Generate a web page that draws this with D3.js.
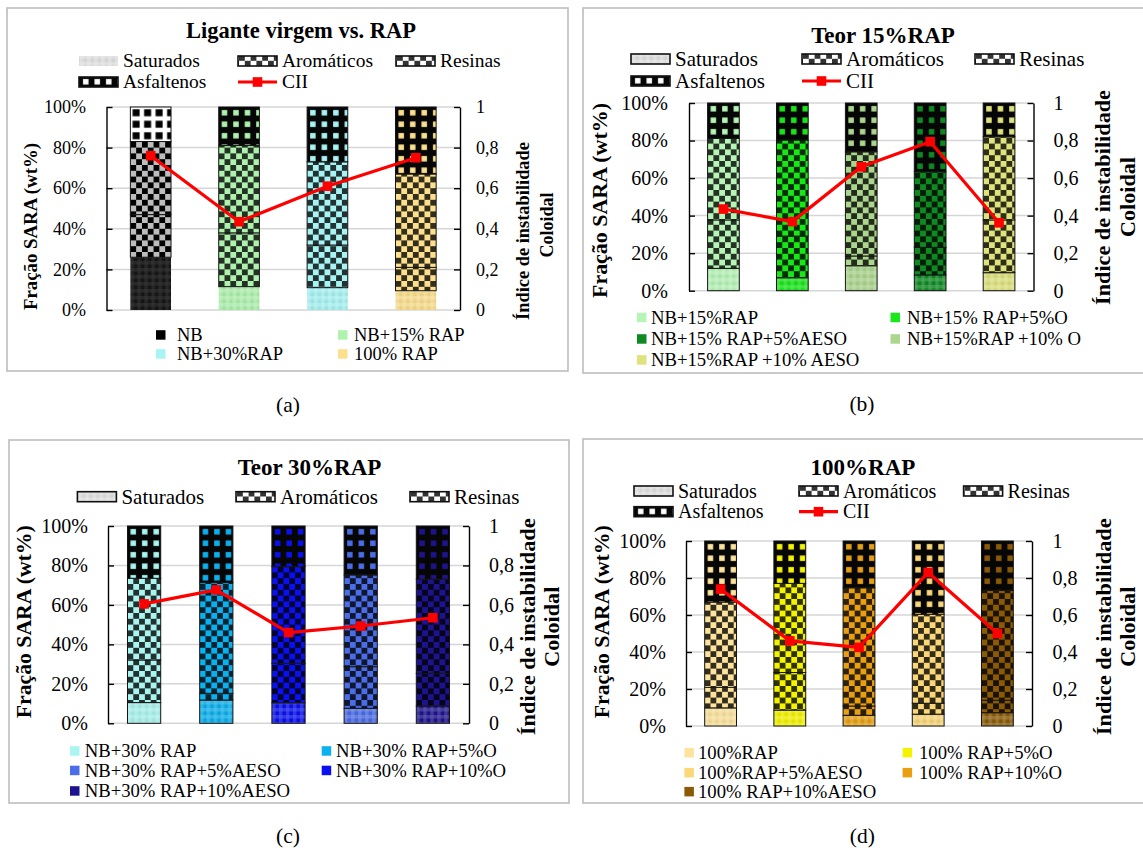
<!DOCTYPE html>
<html>
<head>
<meta charset="utf-8">
<script src="https://cdn.jsdelivr.net/npm/d3@7"></script>
<style>
  body { margin: 0; background: #fff; }
  svg { display: block; }
</style>
</head>
<body>
<svg id="fig" width="1143" height="851"></svg>
<script>
// ---------- shared ----------
const sara = ["Saturados", "Aromáticos", "Resinas", "Asfaltenos"];
const keyItems = ["Saturados", "Aromáticos", "Resinas", "Asfaltenos", "CII"];
const pctTicks = [0, 20, 40, 60, 80, 100];
const ciiTicks = [0, 0.2, 0.4, 0.6, 0.8, 1];
const leftTitle = "Fração SARA (wt%)";
const rightTitle1 = "Índice de instabilidade";
const rightTitle2 = "Coloidal";

// ---------- (a) Ligante virgem vs. RAP ----------
const titleA = "Ligante virgem vs. RAP";
const samplesA = ["NB", "NB+15% RAP", "NB+30%RAP", "100% RAP"];
const saturadosA = [26, 11.5, 11, 9.5];
const aromaticosA = [21, 26.5, 21, 11.5];
const resinasA = [36, 43, 41, 46];
const asfaltenosA = [17, 19, 27, 33];
const ciiA = [0.76, 0.435, 0.61, 0.75];
const legendOrderA = [0, 1, 2, 3];
const colorsA = ["#000000", "#aef2ae", "#a8f4f4", "#fde08e"];

// ---------- (b) Teor 15%RAP ----------
const titleB = "Teor 15%RAP";
const samplesB = ["NB+15%RAP", "NB+15% RAP+5%O", "NB+15%RAP +10% O", "NB+15% RAP+5%AESO", "NB+15%RAP +10% AESO"];
const saturadosB = [11.9, 6.9, 13.3, 8.4, 9.6];
const aromaticosB = [25.8, 22.2, 5.2, 14.7, 28.1];
const resinasB = [43.5, 51.2, 55.5, 40.3, 44.3];
const asfaltenosB = [18.8, 19.7, 26.0, 36.6, 18.0];
const ciiB = [0.435, 0.368, 0.66, 0.794, 0.362];
const legendOrderB = [0, 1, 3, 2, 4];
const colorsB = ["#b6f5b6", "#18e818", "#acd68e", "#0e8a22", "#dfe37c"];

// ---------- (c) Teor 30%RAP ----------
const titleC = "Teor 30%RAP";
const samplesC = ["NB+30% RAP", "NB+30% RAP+5%O", "NB+30% RAP+10%O", "NB+30% RAP+5%AESO", "NB+30% RAP+10%AESO"];
const saturadosC = [10.5, 11.8, 10.4, 7.6, 8.8];
const aromaticosC = [21.6, 3.4, 20.0, 21.1, 16.5];
const resinasC = [41.4, 56.1, 49.0, 46.5, 47.7];
const asfaltenosC = [26.5, 28.7, 20.6, 24.8, 27.0];
const ciiC = [0.605, 0.676, 0.46, 0.493, 0.535];
const legendOrderC = [0, 1, 3, 2, 4];
const colorsC = ["#aaf5ef", "#0bb0ee", "#0a10f0", "#4b6ee8", "#1d138e"];

// ---------- (d) 100%RAP ----------
const titleD = "100%RAP";
const samplesD = ["100%RAP", "100% RAP+5%O", "100% RAP+10%O", "100%RAP+5%AESO", "100% RAP+10%AESO"];
const saturadosD = [9.8, 8.6, 5.8, 6.4, 7.2];
const aromaticosD = [11.1, 20.3, 5.0, 5.9, 6.7];
const resinasD = [46.1, 48.2, 63.9, 48.1, 59.4];
const asfaltenosD = [33.0, 22.9, 25.3, 39.6, 26.7];
const ciiD = [0.74, 0.46, 0.425, 0.83, 0.50];
const legendOrderD = [0, 1, 3, 2, 4];
const colorsD = ["#fde39c", "#f4f400", "#e8a012", "#fcd778", "#8b5a06"];

// ---------- panel geometry ----------
const layouts = [
  { border: [7, 8, 568, 371], plot: [106.5, 460, 107, 310],
    title: { x: 301, y: 38, size: 22.5 }, keyRows: [61, 82], keyX: [79, 238, 396], keyCount: 5, keyFont: 19.5,
    tickFont: 18, lPad: 20.5, rPad: 16,
    yTitle: { x: 31, y: 226.5, len: 167 }, rTitle: { x1: 523, x2: 547, y1: 231, y2: 225, len1: 178, len2: 65 }, axFont: 18.5,
    bottom: { cols: [156, 338], rows: [335, 354], off: [21, 16], font: 18.5 },
    caption: { x: 288, y: 412, text: "(a)" }, satStroke: false, satKeyStroke: false },
  { border: [583, 8, 1146, 373], plot: [689, 1033.5, 103, 290.7],
    title: { x: 883, y: 42.7, size: 23 }, keyRows: [59, 81], keyX: [631, 802, 975], keyCount: 5, keyFont: 21,
    tickFont: 20, lPad: 21, rPad: 20,
    yTitle: { x: 599, y: 200.5, len: 195 }, rTitle: { x1: 1102, x2: 1127, y1: 197.5, y2: 197, len1: 215, len2: 80 }, axFont: 21.5,
    bottom: { cols: [637, 890.5], rows: [317.5, 339, 360], off: [14, 16.5], font: 18.7 },
    caption: { x: 862, y: 411, text: "(b)" }, satStroke: true, satKeyStroke: true },
  { border: [9, 440, 569, 803], plot: [108, 469, 526, 723.3],
    title: { x: 309.5, y: 475, size: 23 }, keyRows: [496.7], keyX: [77.4, 236, 410], keyCount: 3, keyFont: 21,
    tickFont: 20, lPad: 20, rPad: 20,
    yTitle: { x: 23.6, y: 621.7, len: 193 }, rTitle: { x1: 527, x2: 551, y1: 626.7, y2: 626.7, len1: 217, len2: 80 }, axFont: 21.5,
    bottom: { cols: [70, 321.7], rows: [751, 770.5, 791], off: [14.7, 14.3], font: 18.7 },
    caption: { x: 288, y: 843, text: "(c)" }, satStroke: true, satKeyStroke: true },
  { border: [583, 439, 1146, 803], plot: [686, 1032, 541, 726],
    title: { x: 863, y: 475, size: 23 }, keyRows: [491, 511.7], keyX: [634, 799, 963.6], keyCount: 5, keyFont: 20,
    tickFont: 20, lPad: 20, rPad: 20.5,
    yTitle: { x: 601, y: 621.7, len: 193 }, rTitle: { x1: 1103.6, x2: 1127, y1: 626.7, y2: 626.7, len1: 217, len2: 80 }, axFont: 21.5,
    bottom: { cols: [684.4, 902.6], rows: [752.7, 772.7, 791.7], off: [13.6, 16.4], font: 18.7 },
    caption: { x: 862.4, y: 843, text: "(d)" }, satStroke: true, satKeyStroke: true }
];

const panelData = [
  { title: titleA, samples: samplesA, parts: [saturadosA, aromaticosA, resinasA, asfaltenosA], cii: ciiA, order: legendOrderA, colors: colorsA },
  { title: titleB, samples: samplesB, parts: [saturadosB, aromaticosB, resinasB, asfaltenosB], cii: ciiB, order: legendOrderB, colors: colorsB },
  { title: titleC, samples: samplesC, parts: [saturadosC, aromaticosC, resinasC, asfaltenosC], cii: ciiC, order: legendOrderC, colors: colorsC },
  { title: titleD, samples: samplesD, parts: [saturadosD, aromaticosD, resinasD, asfaltenosD], cii: ciiD, order: legendOrderD, colors: colorsD }
];

// ---------- drawing ----------
const serif = '"Liberation Serif", "Times New Roman", Times, serif';
const svg = d3.select("#fig");
svg.append("rect").attr("width", 1143).attr("height", 851).attr("fill", "#fff");
const defs = svg.append("defs");

const mix = (a, b, t) => d3.interpolateRgb(a, b)(t);
const isDark = c => d3.hsl(c).l < 0.12 || isNaN(d3.hsl(c).l);

let pid = 0;
// fill patterns: "sat" soft plaid, "chk" checkerboard, "asp" squares on a contrasting ground
function pattern(kind, c, ox, oy) {
  const id = "pt" + (pid++);
  const p = defs.append("pattern").attr("id", id)
    .attr("patternUnits", "userSpaceOnUse").attr("x", ox).attr("y", oy);
  if (kind === "sat") {
    const s = 7;
    p.attr("width", s).attr("height", s);
    const base = isDark(c) ? "#151515" : mix(c, "#000", 0.07);
    const hi = isDark(c) ? "#3c3c3c" : mix(c, "#fff", 0.35);
    p.append("rect").attr("width", s).attr("height", s).attr("fill", base);
    p.append("rect").attr("width", s / 2).attr("height", s).attr("fill", hi).attr("fill-opacity", 0.45);
    p.append("rect").attr("width", s).attr("height", s / 2).attr("fill", hi).attr("fill-opacity", 0.45);
  } else if (kind === "chk") {
    const s = 5.8;
    p.attr("width", 2 * s).attr("height", 2 * s);
    const light = isDark(c) ? "#bdbdbd" : c;
    const dark = isDark(c) ? "#000" : mix(c, "#000", 0.8);
    p.append("rect").attr("width", 2 * s).attr("height", 2 * s).attr("fill", light);
    p.append("rect").attr("width", s).attr("height", s).attr("fill", dark);
    p.append("rect").attr("x", s).attr("y", s).attr("width", s).attr("height", s).attr("fill", dark);
  } else {
    const per = 11.5;
    const q = isDark(c) ? 7 : 5.5;
    p.attr("width", per).attr("height", per);
    p.append("rect").attr("width", per).attr("height", per).attr("fill", isDark(c) ? "#fff" : "#060606");
    p.append("rect").attr("x", (per - q) / 2).attr("y", (per - q) / 2).attr("width", q).attr("height", q)
      .attr("fill", isDark(c) ? "#000" : c);
  }
  return `url(#${id})`;
}
const kindOf = ["sat", "chk", "chk", "asp"];

function vText(g, x, y, txt, size, len) {
  g.append("text")
    .attr("transform", `translate(${x},${y}) rotate(-90)`)
    .attr("text-anchor", "middle").attr("dy", "0.35em")
    .attr("font-family", serif).attr("font-weight", "bold").attr("font-size", size)
    .attr("textLength", len).attr("lengthAdjust", "spacingAndGlyphs")
    .text(txt);
}

function drawPanel(L, D) {
  const g = svg.append("g");
  const [bx0, by0, bx1, by1] = L.border;
  g.append("rect").attr("x", bx0).attr("y", by0).attr("width", bx1 - bx0).attr("height", by1 - by0)
    .attr("fill", "#fff").attr("stroke", "#bdbdbd").attr("stroke-width", 1.6);

  const [px0, px1, pyTop, pyBot] = L.plot;
  const x = d3.scaleBand().domain(D.samples).range([px0, px1]).paddingInner(0.54).paddingOuter(0.27);
  const y = d3.scaleLinear().domain([0, 100]).range([pyBot, pyTop]);
  const yR = d3.scaleLinear().domain([0, 1]).range([pyBot, pyTop]);

  // title
  g.append("text").attr("x", L.title.x).attr("y", L.title.y).attr("text-anchor", "middle")
    .attr("font-family", serif).attr("font-weight", "bold").attr("font-size", L.title.size).text(D.title);

  // gridlines
  g.append("g").selectAll("line").data(pctTicks).join("line")
    .attr("x1", px0).attr("x2", px1).attr("y1", d => y(d)).attr("y2", d => y(d))
    .attr("stroke", "#d6d6d6").attr("stroke-width", 1.5);

  // stacked SARA bars
  const rows = D.samples.map((s, i) => {
    const r = { sample: s, idx: i };
    sara.forEach((k, j) => { r[k] = D.parts[j][i]; });
    return r;
  });
  const series = d3.stack().keys(sara)(rows);
  series.forEach((ser, j) => {
    g.append("g").selectAll("rect").data(ser).join("rect")
      .attr("x", d => x(d.data.sample))
      .attr("width", x.bandwidth())
      .attr("y", d => y(d[1]))
      .attr("height", d => y(d[0]) - y(d[1]))
      .attr("fill", d => pattern(kindOf[j], D.colors[d.data.idx], x(d.data.sample), pyTop))
      .attr("stroke", (j === 0 && !L.satStroke) ? "none" : "#151515")
      .attr("stroke-width", 1);
  });

  // axes
  const axL = d3.axisLeft(y).tickValues(pctTicks).tickFormat(d => d + "%")
    .tickSize(-6).tickSizeOuter(0).tickPadding(L.lPad);
  const gL = g.append("g").attr("transform", `translate(${px0},0)`).call(axL);
  const axR = d3.axisRight(yR).tickValues(ciiTicks)
    .tickFormat(d => (d === 0 || d === 1) ? String(d) : d.toFixed(1).replace(".", ","))
    .tickSize(-6).tickSizeOuter(0).tickPadding(L.rPad);
  const gR = g.append("g").attr("transform", `translate(${px1},0)`).call(axR);
  [gL, gR].forEach(a => {
    a.attr("font-family", serif).attr("font-size", L.tickFont);
    a.select(".domain").attr("stroke", "#000").attr("stroke-width", 1.4);
    a.selectAll(".tick line").attr("stroke", "#000").attr("stroke-width", 1.4);
    a.selectAll(".tick text").attr("fill", "#000");
  });

  // CII line
  const cx = (d, i) => x(D.samples[i]) + x.bandwidth() / 2;
  g.append("path").datum(D.cii)
    .attr("d", d3.line().x(cx).y(d => yR(d)))
    .attr("fill", "none").attr("stroke", "#ff0000").attr("stroke-width", 3.2).attr("stroke-linejoin", "round");
  g.append("g").selectAll("rect").data(D.cii).join("rect")
    .attr("x", (d, i) => cx(d, i) - 4.8).attr("y", d => yR(d) - 4.8)
    .attr("width", 9.6).attr("height", 9.6).attr("fill", "#ff0000");

  // axis titles
  vText(g, L.yTitle.x, L.yTitle.y, leftTitle, L.axFont, L.yTitle.len);
  vText(g, L.rTitle.x1, L.rTitle.y1, rightTitle1, L.axFont, L.rTitle.len1);
  vText(g, L.rTitle.x2, L.rTitle.y2, rightTitle2, L.axFont, L.rTitle.len2);

  // fraction key
  const swW = 39, swH = 10;
  const keyColor = ["#e4e4e4", "#ffffff", "#ffffff", "#ffffff"];
  keyItems.slice(0, L.keyCount).forEach((name, k) => {
    const col = k % 3, row = Math.floor(k / 3);
    const sx = L.keyX[col], cy = L.keyRows[row];
    if (name === "CII") {
      g.append("line").attr("x1", sx).attr("x2", sx + swW).attr("y1", cy).attr("y2", cy)
        .attr("stroke", "#ff0000").attr("stroke-width", 3.2);
      g.append("rect").attr("x", sx + swW / 2 - 4.8).attr("y", cy - 4.8).attr("width", 9.6).attr("height", 9.6)
        .attr("fill", "#ff0000");
    } else {
      const j = sara.indexOf(name);
      g.append("rect").attr("x", sx).attr("y", cy - swH / 2).attr("width", swW).attr("height", swH)
        .attr("fill", pattern(kindOf[j], keyColor[j], sx + 1, cy - swH / 2 - 1))
        .attr("stroke", (j === 0 && !L.satKeyStroke) ? "none" : "#111").attr("stroke-width", 1.6);
    }
    g.append("text").attr("x", sx + 44).attr("y", cy + 0.33 * L.keyFont)
      .attr("font-family", serif).attr("font-size", L.keyFont).text(name);
  });

  // sample key
  D.order.forEach((si, pos) => {
    const col = pos % 2, row = Math.floor(pos / 2);
    const sx = L.bottom.cols[col], cy = L.bottom.rows[row];
    g.append("rect").attr("x", sx).attr("y", cy - 4.8).attr("width", 9.5).attr("height", 9.5)
      .attr("fill", D.colors[si]);
    g.append("text").attr("x", sx + L.bottom.off[col]).attr("y", cy + 0.33 * L.bottom.font)
      .attr("font-family", serif).attr("font-size", L.bottom.font).text(D.samples[si]);
  });

  // caption
  svg.append("text").attr("x", L.caption.x).attr("y", L.caption.y).attr("text-anchor", "middle")
    .attr("font-family", serif).attr("font-size", 21.5).text(L.caption.text);
}

layouts.forEach((L, i) => drawPanel(L, panelData[i]));
</script>
</body>
</html>
